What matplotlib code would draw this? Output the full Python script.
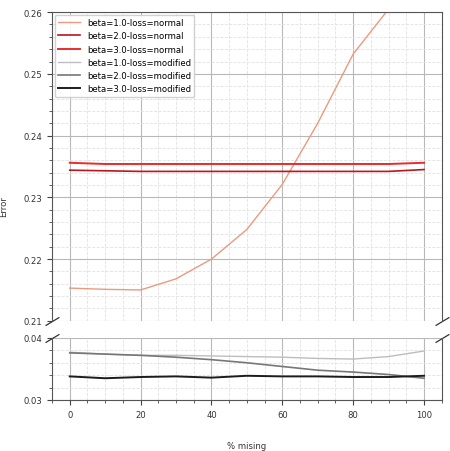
import numpy as np
import matplotlib.pyplot as plt
from matplotlib.ticker import MultipleLocator

missing = [0, 10, 20, 30, 40, 50, 60, 70, 80, 90, 100]

err_b1_normal = [0.2153, 0.2151, 0.2150, 0.2168, 0.2200, 0.2248, 0.2321, 0.2420, 0.2532, 0.2605, 0.2680]
err_b2_normal = [0.2344, 0.2343, 0.2342, 0.2342, 0.2342, 0.2342, 0.2342, 0.2342, 0.2342, 0.2342, 0.2345]
err_b3_normal = [0.2356, 0.2354, 0.2354, 0.2354, 0.2354, 0.2354, 0.2354, 0.2354, 0.2354, 0.2354, 0.2356]
err_b1_mod = [0.0377, 0.0374, 0.0372, 0.0372, 0.0371, 0.0370, 0.0369, 0.0367, 0.0366, 0.0370, 0.0379]
err_b2_mod = [0.0376, 0.0374, 0.0372, 0.0369, 0.0365, 0.0360, 0.0354, 0.0348, 0.0345, 0.0341, 0.0335]
err_b3_mod = [0.0338, 0.0335, 0.0337, 0.0338, 0.0336, 0.0339, 0.0338, 0.0338, 0.0337, 0.0337, 0.0339]

# label, values, colour, width (beta 3 drawn heavier)
series = [
    ("beta=1.0-loss=normal", err_b1_normal, "#eb9a7e", 1.0),
    ("beta=2.0-loss=normal", err_b2_normal, "#b8181e", 1.2),
    ("beta=3.0-loss=normal", err_b3_normal, "#ec2a2a", 1.4),
    ("beta=1.0-loss=modified", err_b1_mod, "#bdbdbd", 1.0),
    ("beta=2.0-loss=modified", err_b2_mod, "#777777", 1.2),
    ("beta=3.0-loss=modified", err_b3_mod, "#1c1c1c", 1.4),
]

plt.rcParams['font.size'] = 6.1

fig = plt.figure(figsize=(4.5, 4.52), dpi=100)
ax_top = fig.add_axes([0.1156, 0.288, 0.866, 0.683])
ax_bot = fig.add_axes([0.1156, 0.113, 0.866, 0.137])

for ax in (ax_top, ax_bot):
    for name, vals, col, w in series:
        ax.plot(missing, vals, color=col, lw=w, label=name)
    ax.set_xlim(-5, 105)
    ax.xaxis.set_major_locator(MultipleLocator(20))
    ax.xaxis.set_minor_locator(MultipleLocator(5))
    ax.yaxis.set_major_locator(MultipleLocator(0.01))
    ax.yaxis.set_minor_locator(MultipleLocator(0.002))
    ax.grid(which='major', color='#b8b8b8', lw=0.8)
    ax.grid(which='minor', color='#e2e2e2', lw=0.6, ls='--')
    ax.tick_params(which='major', length=3.5, width=0.8, color='#444444', labelcolor='#333333')
    ax.tick_params(which='minor', length=2, width=0.6, color='#444444')
    for s in ax.spines.values():
        s.set_color('#555555')

ax_top.set_ylim(0.21, 0.26)
ax_bot.set_ylim(0.03, 0.04)

ax_top.spines['bottom'].set_visible(False)
ax_bot.spines['top'].set_visible(False)
ax_top.tick_params(which='both', bottom=False, labelbottom=False)

# diagonal break marks
d = 0.6
kw = dict(marker=[(-1, -d), (1, d)], markersize=10, linestyle='none',
          color='#333333', mec='#333333', mew=0.9, clip_on=False)
ax_top.plot([0, 1], [0, 0], transform=ax_top.transAxes, **kw)
ax_bot.plot([0, 1], [1, 1], transform=ax_bot.transAxes, **kw)

ax_top.legend(loc='upper left', fontsize=6.1, handlelength=2.6, framealpha=0.9,
              borderaxespad=0.3)

fig.text(0.549, 0.012, "% mising", ha='center', va='center', color='#333333')
fig.text(0.009, 0.542, "Error", ha='center', va='center', rotation=90, color='#333333')

fig.savefig("out.png", dpi=100)
